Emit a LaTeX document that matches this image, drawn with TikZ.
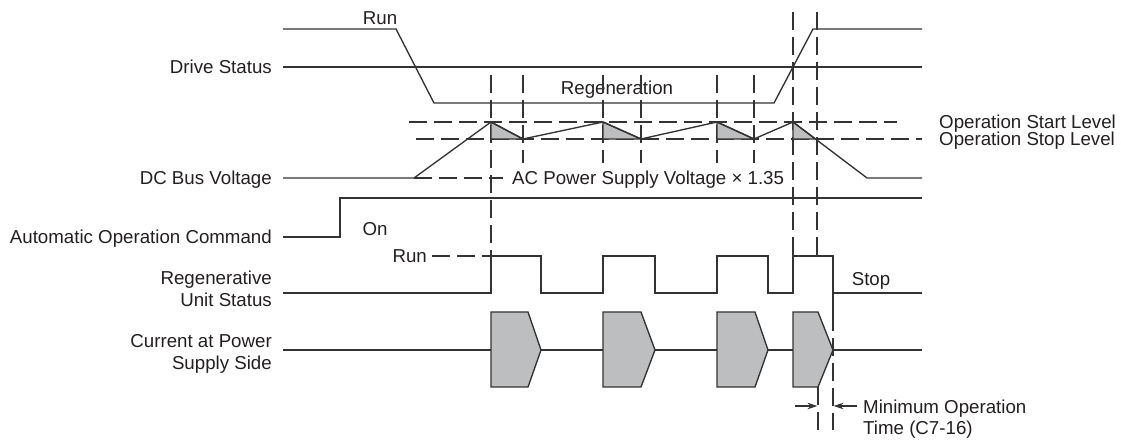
\documentclass[tikz,border=0pt]{standalone}
\usepackage{fontspec}
\setmainfont{Liberation Sans}
\usetikzlibrary{arrows.meta}
\definecolor{ln}{HTML}{333333}
\definecolor{tx}{HTML}{231F20}
\definecolor{fl}{HTML}{BCBEC0}
\begin{document}
\begin{tikzpicture}[x=1pt,y=-1pt,
  sig/.style={draw=ln, line width=1.35pt, line join=miter},
  dsh/.style={draw=ln, line width=1.3pt, dash pattern=on 18pt off 7pt},
  lbl/.style={inner sep=0pt, text=tx, font=\fontsize{18.7}{21.5}\selectfont},
  pulse/.style={fill=fl, draw=ln, line width=1.35pt, line join=miter},
  tri/.style={fill=fl, draw=ln, line width=1.35pt},
  dimarrow/.style={draw=ln, line width=1.3pt, -{Stealth[length=10pt,width=6.5pt]}}]
\useasboundingbox (0,0) rectangle (1121,441);

% ---------- labels ----------
\node[lbl, anchor=base east] (ds) at (272,73.6) {Drive Status};
\node[lbl, anchor=base east] (dc) at (272,184.6) {DC Bus Voltage};
\node[lbl, anchor=base east] (aoc) at (272,243.6) {Automatic Operation Command};
\node[lbl, anchor=north east, align=right] (rus) at (272,271) {Regenerative\\Unit Status};
\node[lbl, anchor=north east, align=right] (cps) at (272,334.5) {Current at Power\\Supply Side};
\node[lbl, anchor=base] (run1) at (380,24.6) {Run};
\node[lbl, anchor=base] (regen) at (617,94.6) {Regeneration};
\node[lbl, anchor=base west] (osl) at (939,128.6) {Operation Start Level};
\node[lbl, anchor=base west] (ospl) at (939,145.6) {Operation Stop Level};
\node[lbl, anchor=base west] (ac) at (512,184.6) {AC Power Supply Voltage × 1.35};
\node[lbl, anchor=base] (on) at (375,235.6) {On};
\node[lbl, anchor=base east] (run2) at (427,262.6) {Run};
\node[lbl, anchor=base] (stop) at (871,285.6) {Stop};
\node[lbl, anchor=north west, align=left] (mot) at (863,399.4) {Minimum Operation\\Time (C7-16)};

% ---------- dashed reference lines ----------
\coordinate (rundash) at (432,256);
\draw[dsh] (409,122) -- (897,122);
\draw[dsh] (416,139) -- (922,139);
\draw[dsh] (414,178) -- (503,178);
\draw[dsh] (rundash) -- (491,256);
\draw[dsh] (491,75) -- (491,256);
\draw[dsh] (523,75) -- (523,163);
\draw[dsh] (603,75) -- (603,163);
\draw[dsh] (641,75) -- (641,163);
\draw[dsh] (717,75) -- (717,163);
\draw[dsh] (754,75) -- (754,163);
\draw[dsh] (793,12) -- (793,256);
\draw[dsh] (817,12) -- (817,256);
\draw[dsh] (818,387) -- (818,430);
\draw[dsh] (833,313) -- (833,430);

% ---------- Drive status ----------
\draw[sig] (283,29) -- (396,29) -- (434,103) -- (774,103) -- (813,29) -- (922,29);
\draw[sig] (283,67) -- (922,67);

% ---------- DC bus voltage ----------
\filldraw[tri] (491,122) -- (491,139) -- (523,139) -- cycle;
\filldraw[tri] (603,122) -- (603,139) -- (641,139) -- cycle;
\filldraw[tri] (717,122) -- (717,139) -- (754,139) -- cycle;
\filldraw[tri] (793,122) -- (793,139) -- (815.5,139) -- cycle;
\draw[sig] (283,178) -- (414,178) -- (491,122) -- (523,139) -- (603,122) -- (641,139)
  -- (717,122) -- (754,139) -- (793,122) -- (867,178) -- (922,178);

% ---------- Automatic operation command ----------
\draw[sig] (283,237) -- (340,237) -- (340,198) -- (922,198);

% ---------- Regenerative unit status ----------
\draw[sig] (283,293) -- (491,293) -- (491,256) -- (541,256) -- (541,293) -- (603,293)
  -- (603,256) -- (655,256) -- (655,293) -- (717,293) -- (717,256) -- (768,256)
  -- (768,293) -- (793,293) -- (793,256) -- (833,256) -- (833,313);
\draw[sig] (833,293) -- (922,293);

% ---------- Current at power supply side ----------
\draw[sig] (283,350) -- (922,350);
\filldraw[pulse] (491,312) -- (528,312) -- (541,350) -- (528,387) -- (491,387) -- cycle;
\filldraw[pulse] (603,312) -- (641,312) -- (655,350) -- (641,387) -- (603,387) -- cycle;
\filldraw[pulse] (717,312) -- (755,312) -- (768,350) -- (755,387) -- (717,387) -- cycle;
\filldraw[pulse] (793,312) -- (818,312) -- (833,350) -- (818,387) -- (793,387) -- cycle;

% ---------- minimum operation time ----------
\coordinate (la) at (795,406);
\coordinate (lb) at (817.4,406);
\coordinate (ra) at (857,406);
\coordinate (rb) at (833.6,406);
\draw[dimarrow] (la) -- (lb);
\draw[dimarrow] (ra) -- (rb);
\end{tikzpicture}
\end{document}
